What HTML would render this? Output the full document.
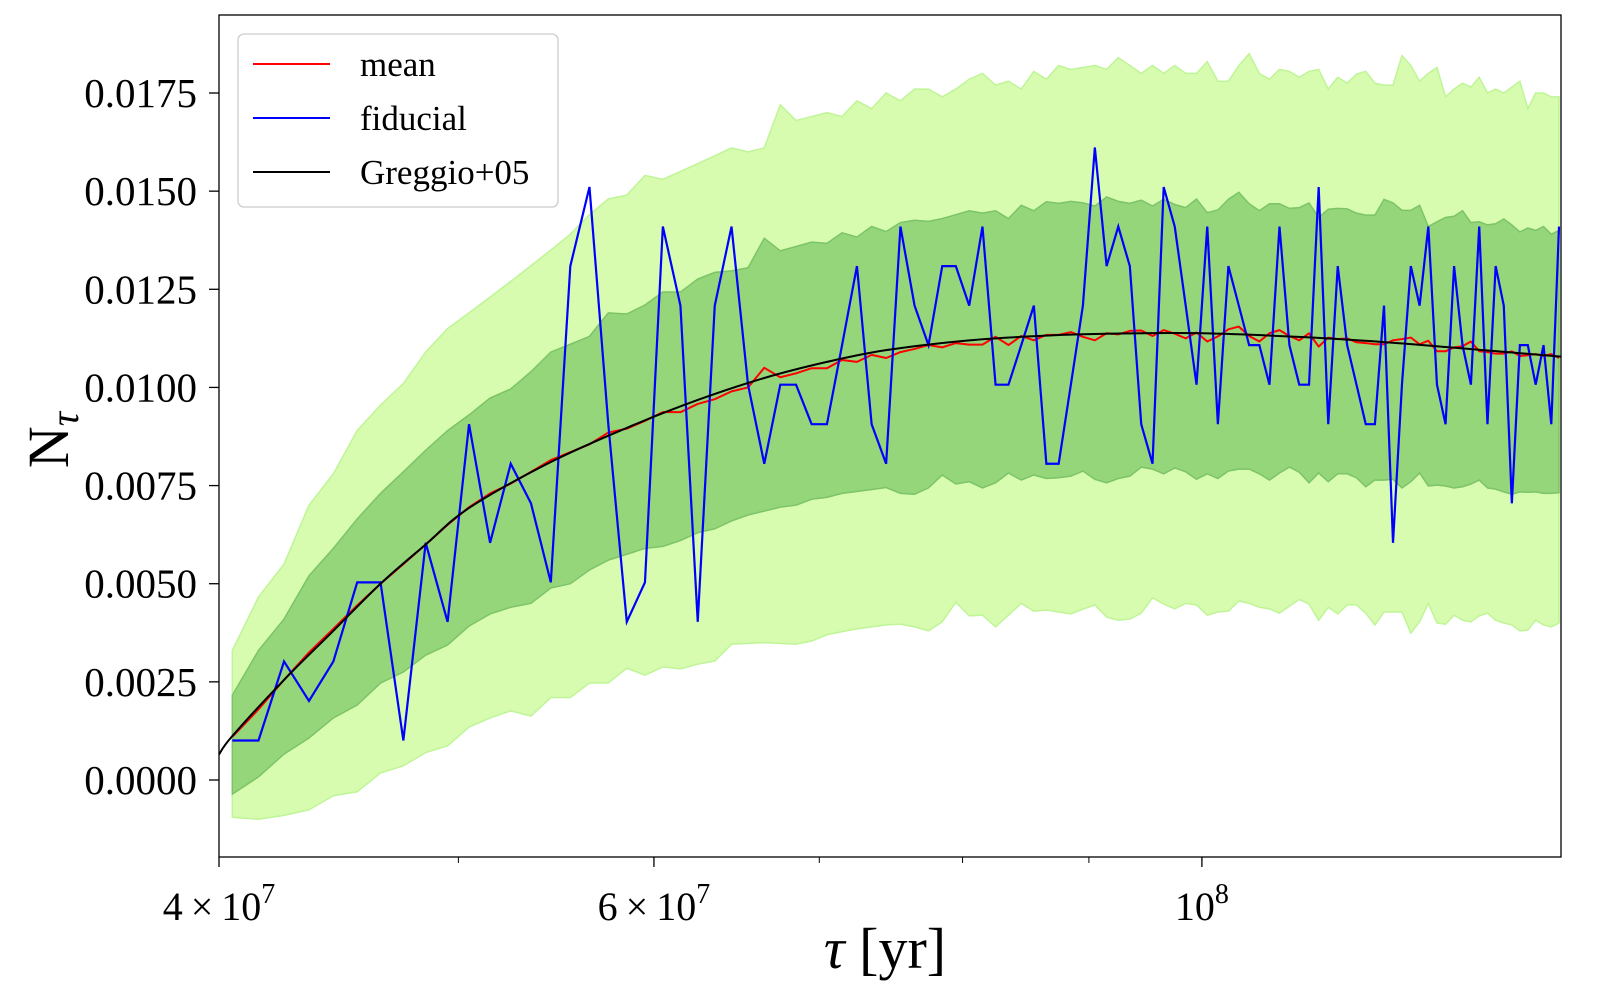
<!DOCTYPE html>
<html><head><meta charset="utf-8">
<style>
html,body{margin:0;padding:0;background:#fff;}
svg{display:block;font-family:"Liberation Serif","DejaVu Serif",serif;}
</style></head>
<body>
<svg id="chart" width="1600" height="1000" viewBox="0 0 1600 1000" xmlns="http://www.w3.org/2000/svg">
  <defs><clipPath id="plotclip"><rect x="219" y="15" width="1342" height="842"/></clipPath></defs>
  <rect x="0" y="0" width="1600" height="1000" fill="#fff"/>
  <g id="bands" clip-path="url(#plotclip)"></g>
  <g id="lines" clip-path="url(#plotclip)"></g>
  <rect x="219" y="15" width="1342" height="842" fill="none" stroke="#000" stroke-width="1.3"/>
  <g id="yaxis"></g>
  <g id="xaxis"></g>
  <text x="885" y="968" font-size="58" text-anchor="middle"><tspan font-style="italic">τ</tspan> [yr]</text>
  <text transform="translate(68,440) rotate(-90)" font-size="58" text-anchor="middle">N<tspan font-style="italic" font-size="40" dy="10">τ</tspan></text>
  <g>
    <rect x="238" y="34" width="320" height="173" rx="6" fill="#fff" fill-opacity="0.85" stroke="#cccccc" stroke-width="1.3"/>
    <g>
      <line x1="253" y1="64" x2="330" y2="64" stroke="#ff0000" stroke-width="2"/>
      <text x="360" y="76" font-size="35">mean</text>
    </g>
    <g>
      <line x1="253" y1="118" x2="330" y2="118" stroke="#0000ff" stroke-width="2"/>
      <text x="360" y="130" font-size="35">fiducial</text>
    </g>
    <g>
      <line x1="253" y1="172" x2="330" y2="172" stroke="#000000" stroke-width="2"/>
      <text x="360" y="184" font-size="35">Greggio+05</text>
    </g>
  </g>
</svg>
<script>
// ---- data (tau in Myr, values in units of 1e-3) ----
const tau = [40.5,41.5,42.5,43.5,44.5,45.5,46.5,47.5,48.5,49.5,50.5,51.5,52.5,53.5,54.5,55.5,56.5,57.5,58.5,59.5,
60.5,61.5,62.5,63.5,64.5,65.5,66.5,67.5,68.5,69.5,70.5,71.5,72.5,73.5,74.5,75.5,76.5,77.5,78.5,79.5,
80.5,81.5,82.5,83.5,84.5,85.5,86.5,87.5,88.5,89.5,90.5,91.5,92.5,93.5,94.5,95.5,96.5,97.5,98.5,99.5,
100.5,101.5,102.5,103.5,104.5,105.5,106.5,107.5,108.5,109.5,110.5,111.5,112.5,113.5,114.5,115.5,116.5,117.5,118.5,119.5,
120.5,121.5,122.5,123.5,124.5,125.5,126.5,127.5,128.5,129.5,130.5,131.5,132.5,133.5,134.5,135.5,136.5,137.5,138.5,139.5];
const fiducial = [1,1,3,2,3,5,5,1,6,4,9,6,8,7,5,13,15,9,4,5,
14,12,4,12,14,10,8,10,10,9,9,11,13,9,8,14,12,11,13,13,
12,14,10,10,11,12,8,8,10,12,16,13,14,13,9,8,15,14,12,10,
14,9,13,12,11,11,10,14,11,10,10,15,9,13,11,10,9,9,12,6,
10,13,12,14,10,9,13,11,10,14,9,13,12,7,11,11,10,11,9,14];
const meanVals = [1.1,1.8,2.55,3.25,3.85,4.45,5.0,5.5,6.0,6.5,6.95,7.3,7.55,7.85,8.15,8.35,8.55,8.85,8.95,9.15,
9.37,9.37,9.58,9.7,9.9,10.0,10.5,10.26,10.36,10.49,10.49,10.7,10.65,10.83,10.75,10.9,10.98,11.08,11.02,11.13,
11.09,11.09,11.29,11.08,11.31,11.2,11.34,11.34,11.41,11.29,11.2,11.38,11.35,11.44,11.45,11.31,11.46,11.37,11.25,11.4,
11.17,11.3,11.48,11.55,11.31,11.17,11.38,11.46,11.31,11.2,11.38,11.04,11.27,11.23,11.25,11.15,11.13,11.1,11.1,11.2,
11.23,11.27,11.1,11.19,10.92,10.92,11.02,11.05,11.17,10.92,10.9,10.86,10.86,10.92,10.8,10.82,10.85,10.8,10.85,10.75];
const innerUpper = [2.16,3.3,4.1,5.2,5.9,6.65,7.3,7.85,8.4,8.9,9.3,9.73,9.96,10.4,10.9,11.1,11.3,11.9,11.87,12.1,
12.43,12.43,12.76,12.93,12.97,13.05,13.8,13.48,13.59,13.7,13.67,13.94,13.83,14.1,13.97,14.2,14.26,14.23,14.3,14.4,
14.5,14.44,14.5,14.3,14.64,14.5,14.73,14.69,14.74,14.7,14.62,14.85,14.74,14.69,14.77,14.62,14.79,14.66,14.58,14.8,
14.45,14.52,14.79,14.97,14.68,14.5,14.68,14.68,14.56,14.58,14.7,14.33,14.54,14.56,14.55,14.44,14.39,14.39,14.79,14.7,
14.51,14.51,14.64,14.1,14.22,14.33,14.36,14.5,14.2,14.22,14.14,14.17,14.29,14.14,13.96,14.06,14.0,14.1,13.9,14.0];
const innerLower = [-0.36,0.08,0.66,1.07,1.58,1.91,2.47,2.75,3.18,3.44,3.92,4.23,4.4,4.5,4.89,5.0,5.35,5.6,5.75,5.9,
5.95,6.1,6.3,6.4,6.6,6.75,6.85,6.95,7.0,7.15,7.2,7.3,7.35,7.4,7.45,7.3,7.28,7.44,7.77,7.54,
7.6,7.44,7.57,7.82,7.64,7.77,7.68,7.7,7.74,7.87,7.66,7.57,7.68,7.74,7.97,7.92,7.8,7.95,7.85,7.66,
7.8,7.68,7.87,7.92,7.92,7.8,7.64,7.82,7.97,7.84,7.57,7.82,7.6,7.8,7.8,7.7,7.47,7.64,7.64,7.66,
7.44,7.6,7.82,7.49,7.51,7.49,7.44,7.47,7.54,7.64,7.44,7.41,7.34,7.28,7.34,7.33,7.34,7.3,7.3,7.32];
const outerUpper = [3.3,4.66,5.5,7.0,7.8,8.9,9.55,10.1,10.9,11.5,11.9,12.3,12.7,13.1,13.5,13.9,14.4,14.8,14.9,15.4,
15.3,15.5,15.7,15.9,16.1,16.0,16.1,17.2,16.8,16.9,17.0,16.9,17.3,17.1,17.5,17.3,17.6,17.6,17.4,17.6,
17.85,18.0,17.7,17.8,17.6,18.05,17.85,18.2,18.1,18.15,18.2,18.1,18.4,18.2,18.0,18.2,18.0,18.2,18.0,18.0,
18.3,17.8,17.8,18.2,18.5,18.0,17.85,18.1,18.05,17.9,18.05,18.1,17.6,17.9,17.75,17.98,18.05,17.75,17.7,17.7,
18.45,18.2,17.8,18.0,18.15,17.4,17.6,17.75,17.65,17.9,17.5,17.6,17.5,17.65,17.8,17.1,17.5,17.5,17.4,17.4];
const outerLower = [-0.95,-1.0,-0.9,-0.76,-0.4,-0.3,0.18,0.36,0.7,0.87,1.35,1.58,1.76,1.63,2.1,2.1,2.47,2.47,2.85,2.67,
2.88,2.83,2.95,3.03,3.46,3.48,3.5,3.48,3.46,3.54,3.7,3.78,3.85,3.9,3.95,3.97,3.9,3.8,4.03,4.53,
4.18,4.2,3.9,4.2,4.5,4.3,4.33,4.28,4.23,4.35,4.46,4.15,4.07,4.1,4.25,4.64,4.48,4.36,4.5,4.46,
4.2,4.28,4.3,4.56,4.5,4.4,4.36,4.25,4.43,4.6,4.48,4.07,4.4,4.23,4.46,4.46,4.25,3.95,4.28,4.28,
4.28,3.74,4.03,4.5,4.0,3.97,4.2,4.07,4.03,4.18,4.25,4.07,4.0,3.95,3.8,3.82,4.07,3.95,3.9,4.0];
const greggioTau = [40,40.5,42.5,44.5,46.5,48.5,50.5,54.5,58.5,62.5,66.5,70.5,74.5,80.5,86.5,92,100,110,120,130,140];
const greggioVals = [0.65,1.12,2.55,3.8,5.0,6.0,6.93,8.1,8.97,9.68,10.24,10.65,10.95,11.2,11.32,11.37,11.38,11.28,11.13,10.95,10.78];
const yTicks = [0,0.0025,0.005,0.0075,0.01,0.0125,0.015,0.0175];
const yTickLabels = ["0.0000","0.0025","0.0050","0.0075","0.0100","0.0125","0.0150","0.0175"];
const xMajor = [4e7,6e7,1e8];
const xMajorMant = ["4","6",""];
const xMajorExp = ["7","7","8"];
const xMinor = [5e7,7e7,8e7,9e7];

// ---- axes ----
const NS="http://www.w3.org/2000/svg";
const X0=219, X1=1561, TAU0=4e7, PXDEC=2470;
function xs(t){ return X0 + Math.log10(t/TAU0)*PXDEC; }
function ys(v){ return 780 - v*39257; }
function xm(tMyr){ return xs(tMyr*1e6); }
function yk(vk){ return ys(vk*1e-3); }
function el(tag, attrs, parent){
  const e=document.createElementNS(NS,tag);
  for(const k in attrs) e.setAttribute(k, attrs[k]);
  parent.appendChild(e); return e;
}
const bands=document.getElementById('bands');
const lines=document.getElementById('lines');
function bandPath(up, lo){
  let d='';
  for(let i=0;i<tau.length;i++) d+=(i?'L':'M')+xm(tau[i]).toFixed(2)+','+yk(up[i]).toFixed(2);
  for(let i=tau.length-1;i>=0;i--) d+='L'+xm(tau[i]).toFixed(2)+','+yk(lo[i]).toFixed(2);
  return d+'Z';
}
const ob=el('path',{d:bandPath(outerUpper,outerLower),fill:'#d7fcb0',stroke:'#bff596','stroke-width':'1.5'},bands);


const ib=el('path',{d:bandPath(innerUpper,innerLower),fill:'#95d67a',stroke:'#7cc466','stroke-width':'1.5'},bands);



function linePath(ts, vs, scale){
  let d='';
  for(let i=0;i<ts.length;i++) d+=(i?'L':'M')+xm(ts[i]).toFixed(2)+','+yk(vs[i]*scale).toFixed(2);
  return d;
}
function smoothPath(ts, vs){
  const p=ts.map((t,i)=>[xm(t),yk(vs[i])]);
  let d='M'+p[0][0].toFixed(2)+','+p[0][1].toFixed(2);
  for(let i=0;i<p.length-1;i++){
    const p0=p[Math.max(0,i-1)],p1=p[i],p2=p[i+1],p3=p[Math.min(p.length-1,i+2)];
    const c1=[p1[0]+(p2[0]-p0[0])/6,p1[1]+(p2[1]-p0[1])/6];
    const c2=[p2[0]-(p3[0]-p1[0])/6,p2[1]-(p3[1]-p1[1])/6];
    d+='C'+c1[0].toFixed(2)+','+c1[1].toFixed(2)+' '+c2[0].toFixed(2)+','+c2[1].toFixed(2)+' '+p2[0].toFixed(2)+','+p2[1].toFixed(2);
  }
  return d;
}
const ml=el('path',{d:linePath(tau,meanVals,1),fill:'none',stroke:'#ff0000','stroke-width':'2','stroke-linejoin':'round'},lines);


const fl=el('path',{d:linePath(tau,fiducial,1.007),fill:'none',stroke:'#0000ff','stroke-width':'2.2','stroke-linejoin':'miter'},lines);


const gl=el('path',{d:smoothPath(greggioTau,greggioVals),fill:'none',stroke:'#000000','stroke-width':'2'},lines);



const ya=document.getElementById('yaxis');
yTicks.forEach((v,i)=>{
  const y=ys(v);
  const t=el('line',{x1:209,y1:y,x2:219,y2:y,stroke:'#000','stroke-width':'1.3'},ya);
  
  
  const lb=el('text',{x:197,y:y+14,'font-size':'41','text-anchor':'end'},ya);
  lb.textContent=yTickLabels[i];
  
  
});
const xa=document.getElementById('xaxis');
xMajor.forEach((t,i)=>{
  const x=xs(t);
  const tk=el('line',{x1:x,y1:857,x2:x,y2:867,stroke:'#000','stroke-width':'1.3'},xa);
  
  
  const lb=el('text',{x:x,y:920,'font-size':'40','text-anchor':'middle'},xa);
  
  
  const base=(xMajorMant[i]?xMajorMant[i]+'\u2009\u00d7\u200910':'10');
  const s1=el('tspan',{},lb); s1.textContent=base;
  const s2=el('tspan',{'font-size':'28',dy:'-17'},lb); s2.textContent=xMajorExp[i];
});
xMinor.forEach(t=>{
  const x=xs(t);
  const tk=el('line',{x1:x,y1:857,x2:x,y2:863,stroke:'#000','stroke-width':'1'},xa);
  
  
});
</script>
</body></html>
